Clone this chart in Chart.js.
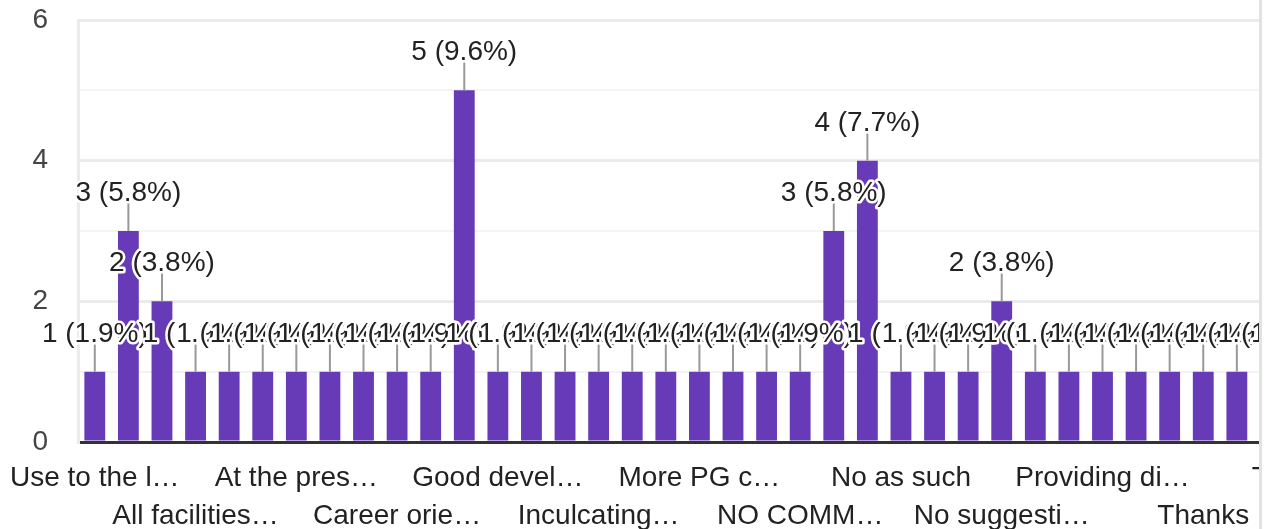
<!DOCTYPE html>
<html>
<head>
<meta charset="utf-8">
<script src="https://cdn.jsdelivr.net/npm/chart.js@4/dist/chart.umd.min.js"></script>
<style>
  html, body { margin: 0; padding: 0; background: #fff; }
  #wrap { position: absolute; left: 0; top: 0; width: 1259px; height: 529px; overflow: hidden; border-right: 3px solid #e2e2e2; }
  canvas { display: block; }
</style>
</head>
<body>
<div id="wrap"><canvas id="chart" width="1390" height="529"></canvas></div>
<script>
// answers as they appear on the axis (every third one is labelled)
var answers = [
  'Use to the l…', 'Add more…', 'All are good',
  'All facilities…', 'Already good', 'As of now…',
  'At the pres…', 'Better…', 'Career guid…',
  'Career orie…', 'Everything…', 'Good',
  'Good devel…', 'Good enough', 'Improve…',
  'Inculcating…', 'Keep it up', 'More indu…',
  'More PG c…', 'N/A', 'Nil',
  'NO COMM…', 'No', 'No comments',
  'No as such', 'No idea', 'No suggestion',
  'No suggesti…', 'None', 'Nothing',
  'Providing di…', 'Satisfied', 'Sports…',
  'Thanks', 'Thank you', 'The best',
  'Tie up…', 'To provide…', 'Very good'
];
var counts = [
  1, 3, 2,
  1, 1, 1,
  1, 1, 1,
  1, 1, 5,
  1, 1, 1,
  1, 1, 1,
  1, 1, 1,
  1, 3, 4,
  1, 1, 1,
  2, 1, 1,
  1, 1, 1,
  1, 1, 1,
  1, 1, 1
];
var yTicks = [0, 2, 4, 6];

var total = counts.reduce(function(a, b) { return a + b; }, 0);

Chart.defaults.font.family = '"Liberation Sans", Arial, sans-serif';

var barLabels = {
  id: 'barLabels',
  afterDatasetsDraw: function(chart) {
    var ctx = chart.ctx;
    var meta = chart.getDatasetMeta(0);
    ctx.save();
    ctx.font = '28px "Liberation Sans", Arial, sans-serif';
    ctx.textAlign = 'center';
    ctx.textBaseline = 'alphabetic';
    ctx.lineJoin = 'round';
    meta.data.forEach(function(bar, i) {
      var v = counts[i];
      var text = v + ' (' + (v / total * 100).toFixed(1) + '%)';
      ctx.strokeStyle = '#999999';
      ctx.lineWidth = 2;
      ctx.beginPath();
      ctx.moveTo(bar.x, bar.y);
      ctx.lineTo(bar.x, bar.y - 29);
      ctx.stroke();
      ctx.strokeStyle = '#ffffff';
      ctx.lineWidth = 5;
      ctx.strokeText(text, bar.x, bar.y - 30);
      ctx.fillStyle = '#222222';
      ctx.fillText(text, bar.x, bar.y - 30);
    });
    ctx.restore();
  }
};

new Chart(document.getElementById('chart'), {
  type: 'bar',
  data: {
    labels: answers,
    datasets: [{
      data: counts,
      backgroundColor: '#673ab7',
      categoryPercentage: 1,
      barPercentage: 0.62
    }]
  },
  options: {
    responsive: false,
    animation: false,
    devicePixelRatio: 1,
    layout: { padding: { top: 20, right: 2 } },
    plugins: { legend: { display: false }, tooltip: { enabled: false } },
    scales: {
      x: {
        z: 1,
        grid: { display: false },
        border: { display: true, color: '#333333', width: 3 },
        ticks: {
          autoSkip: false,
          maxRotation: 0,
          minRotation: 0,
          padding: 9,
          color: '#222222',
          font: { size: 28, lineHeight: 1.36 },
          callback: function(val, i) {
            if (i % 3) return '';
            return i % 6 === 0 ? answers[i] : ['', answers[i]];
          }
        },
        afterFit: function(s) {
          s.height = 87;
          s.paddingLeft = 0;
          s.paddingRight = 0;
        }
      },
      y: {
        min: 0,
        max: 6,
        grid: {
          drawTicks: false,
          color: function(c) { return c.tick.value % 2 === 0 ? '#ebebeb' : '#f4f4f4'; },
          lineWidth: function(c) { return c.tick.value % 2 === 0 ? 3 : 2; }
        },
        border: { display: true, color: '#ebebeb', width: 3 },
        ticks: {
          stepSize: 1,
          padding: 30,
          color: '#444444',
          font: { size: 28 },
          callback: function(v) { return yTicks.indexOf(v) >= 0 ? String(v) : ''; }
        },
        afterFit: function(s) {
          s.width = 78;
          s.paddingTop = 0;
          s.paddingBottom = 0;
        }
      }
    }
  },
  plugins: [barLabels]
});
</script>
</body>
</html>
